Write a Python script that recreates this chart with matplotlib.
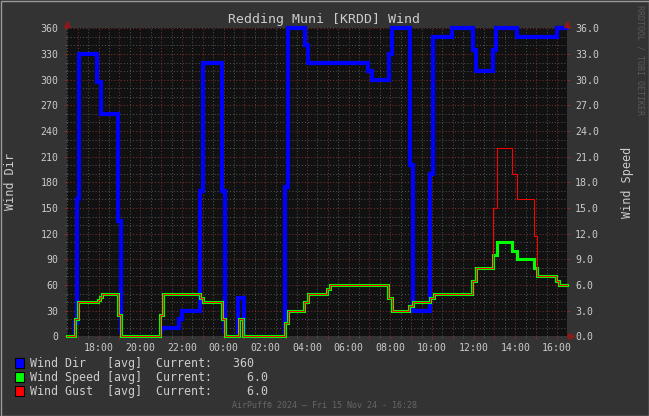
import matplotlib
matplotlib.use('Agg')
import matplotlib.pyplot as plt
from matplotlib.lines import Line2D
from matplotlib.patches import Rectangle
from matplotlib.ticker import MultipleLocator, FuncFormatter

# ---------------- data (hours since midnight of Thu 14 Nov) ----------------
dir_times = [16.47, 16.87, 16.96, 17.06, 17.94, 18.11, 18.93, 19.05, 20.99, 21.88,
             22.02, 22.86, 23.03, 23.92, 24.07, 24.69, 24.98, 26.95, 27.09, 27.90,
             28.07, 30.93, 31.10, 31.94, 32.09, 32.95, 33.10, 33.92, 34.06, 34.98,
             35.97, 36.12, 36.94, 37.09, 38.06, 40.01]
wind_dir = [0, 15, 160, 330, 297, 260, 135, 0, 10, 20,
            30, 170, 320, 170, 0, 45, 0, 175, 360, 340,
            320, 310, 300, 330, 360, 200, 30, 190, 350, 360,
            335, 310, 335, 360, 350, 360]

spd_times = [16.47, 16.87, 16.99, 17.97, 18.07, 18.16, 18.93, 19.07, 20.94, 21.09,
             22.86, 23.03, 23.92, 24.07, 24.74, 24.95, 26.95, 27.09, 27.88, 28.04,
             28.94, 29.11, 31.89, 32.09, 32.90, 33.10, 33.92, 34.10, 35.92, 36.09,
             36.93, 37.12, 37.86, 38.08, 38.89, 39.06, 39.93, 40.10]
wind_speed = [0, 2.0, 4.0, 4.3, 4.6, 5.0, 2.5, 0, 2.5, 5.0,
              4.5, 4.0, 2.0, 0, 2.0, 0, 1.5, 3.0, 4.0, 5.0,
              5.5, 6.0, 4.5, 3.0, 3.5, 4.0, 4.5, 5.0, 6.5, 8.0,
              9.5, 11.0, 10.0, 9.0, 8.0, 7.0, 6.5, 6.0]
wind_gust = [0, 2.0, 4.0, 4.3, 4.6, 5.0, 2.5, 0, 2.5, 5.0,
             4.5, 4.0, 2.0, 0, 2.0, 0, 1.5, 3.0, 4.0, 5.0,
             5.5, 6.0, 4.5, 3.0, 3.5, 4.0, 4.5, 5.0, 6.5, 8.0,
             15.0, 22.0, 19.0, 16.0, 11.7, 7.0, 6.5, 6.0]

title = "Redding Muni [KRDD] Wind"
legend_rows = ["Wind Dir   [avg]  Current:   360",
               "Wind Speed [avg]  Current:     6.0",
               "Wind Gust  [avg]  Current:     6.0"]
legend_colors = ["#0000ff", "#00ff00", "#ff0000"]
footer = "AirPuff\u00ae 2024 \u2013 Fri 15 Nov 24 - 16:28"
t_start = 16 + 28 / 60
t_end = t_start + 24

# ---------------- style ----------------
W, H = 649, 416
BG = "#333333"
PLOT_BG = "#111111"
TXT = "#cccccc"
MONO = "DejaVu Sans Mono"
MAJ = "#7a2e2e"
MIN = "#4e4e4e"

fig = plt.figure(figsize=(W / 100, H / 100), dpi=100, facecolor=BG)
L, T, R, B = 66.7, 28.3, 566.7, 336.3
ax = fig.add_axes([L / W, 1 - B / H, (R - L) / W, (B - T) / H])
ax.set_facecolor(PLOT_BG)
ax.set_xlim(t_start, t_end)
ax.set_ylim(0, 360)

ax2 = ax.twinx()
ax2.set_ylim(0, 36)
ax2.patch.set_visible(False)

def step(xs, ys):
    return list(xs) + [t_end], list(ys) + [ys[-1]]

# clip region: plot area extended upward a little, cut just above the bottom
cb = B - 2.8
clip_blue = Rectangle(((L - 3) / W, 1 - cb / H), (R - L + 6) / W, (cb - T + 6) / H,
                      transform=fig.transFigure)

x, y = step(dir_times, wind_dir)
lb, = ax.plot(x, y, drawstyle='steps-post', color='#0000ff', lw=3.0,
              solid_joinstyle='miter', zorder=3)
lb.set_clip_path(clip_blue)
x, y = step(spd_times, wind_speed)
ax2.plot(x, y, drawstyle='steps-post', color='#00ff00', lw=2.2,
         solid_joinstyle='miter', clip_on=False, zorder=3)
x, y = step(spd_times, wind_gust)
ax2.plot(x, y, drawstyle='steps-post', color='#ff0000', lw=0.75,
         solid_joinstyle='miter', clip_on=False, zorder=4)

# grid + ticks
ax.xaxis.set_major_locator(MultipleLocator(1))
ax.xaxis.set_minor_locator(MultipleLocator(0.5))
ax.yaxis.set_major_locator(MultipleLocator(30))
ax.yaxis.set_minor_locator(MultipleLocator(10))
ax.set_axisbelow(True)
ax.grid(which='major', color=MAJ, linestyle=(0, (1, 2)), lw=0.75)
ax.grid(which='minor', color=MIN, linestyle=(0, (1, 2)), lw=0.75)

def xfmt(v, pos):
    h = int(round(v))
    if h % 2:
        return ""
    return "%02d:00" % (h % 24)
ax.xaxis.set_major_formatter(FuncFormatter(xfmt))
ax.yaxis.set_major_formatter(FuncFormatter(lambda v, p: "%d" % v))
ax2.yaxis.set_major_locator(MultipleLocator(3))
ax2.yaxis.set_major_formatter(FuncFormatter(lambda v, p: "%.1f" % v))

for a in (ax, ax2):
    for s in a.spines.values():
        s.set_visible(False)
ax.tick_params(axis='both', which='major', colors=MAJ, labelcolor=TXT,
               labelsize=7.1, length=2, width=0.8)
ax.tick_params(axis='both', which='minor', colors=MIN, length=1.5, width=0.8)
ax.tick_params(axis='y', which='both', pad=4)
ax.tick_params(axis='x', which='major', pad=2.5)
ax2.tick_params(axis='y', which='major', colors=MAJ, labelcolor=TXT,
                labelsize=7.1, length=2, width=0.8, pad=4)
for lab in ax.get_xticklabels() + ax.get_yticklabels() + ax2.get_yticklabels():
    lab.set_family(MONO)

# arrows
for (px, py, m) in [(L, 23.5, '^'), (R, 23.5, '^'), (R + 4, B, '>')]:
    fig.add_artist(Line2D([px / W], [1 - py / H], marker=m, markersize=4.5,
                          color='#8b1a1a', transform=fig.transFigure))

# texts
fig.text(324.5 / W, 1 - 19.3 / H, title, ha='center', va='center',
         family=MONO, fontsize=9.5, color=TXT)
fig.text(11 / W, 1 - 181 / H, "Wind Dir", rotation=90, ha='center', va='center',
         family=MONO, fontsize=8.5, color=TXT)
fig.text(628 / W, 1 - 182 / H, "Wind Speed", rotation=90, ha='center', va='center',
         family=MONO, fontsize=8.5, color=TXT)
fig.text(640 / W, 1 - 60 / H, "RRDTOOL / TOBI OETIKER", rotation=270, ha='center',
         va='center', family=MONO, fontsize=6, color='#5a5a5a')
fig.text(324.5 / W, 1 - 405 / H, footer, ha='center', va='center',
         family=MONO, fontsize=6, color='#666666')

for i, (txt, col) in enumerate(zip(legend_rows, legend_colors)):
    cy = 363 + 14 * i
    fig.add_artist(Rectangle((15 / W, 1 - (cy + 4.6) / H), 9.2 / W, 9.2 / H,
                             facecolor=col, edgecolor='black', lw=0.8,
                             transform=fig.transFigure))
    fig.text(30 / W, 1 - cy / H, txt, ha='left', va='center', family=MONO,
             fontsize=8.4, color=TXT)

# outer frame
fig.add_artist(Rectangle((0.5 / W, 0.5 / H), (W - 1) / W, (H - 1) / H,
                         facecolor='none', edgecolor='#9a9a9a', lw=1.0,
                         transform=fig.transFigure))

fig.savefig("out.png", dpi=100, facecolor=BG)
